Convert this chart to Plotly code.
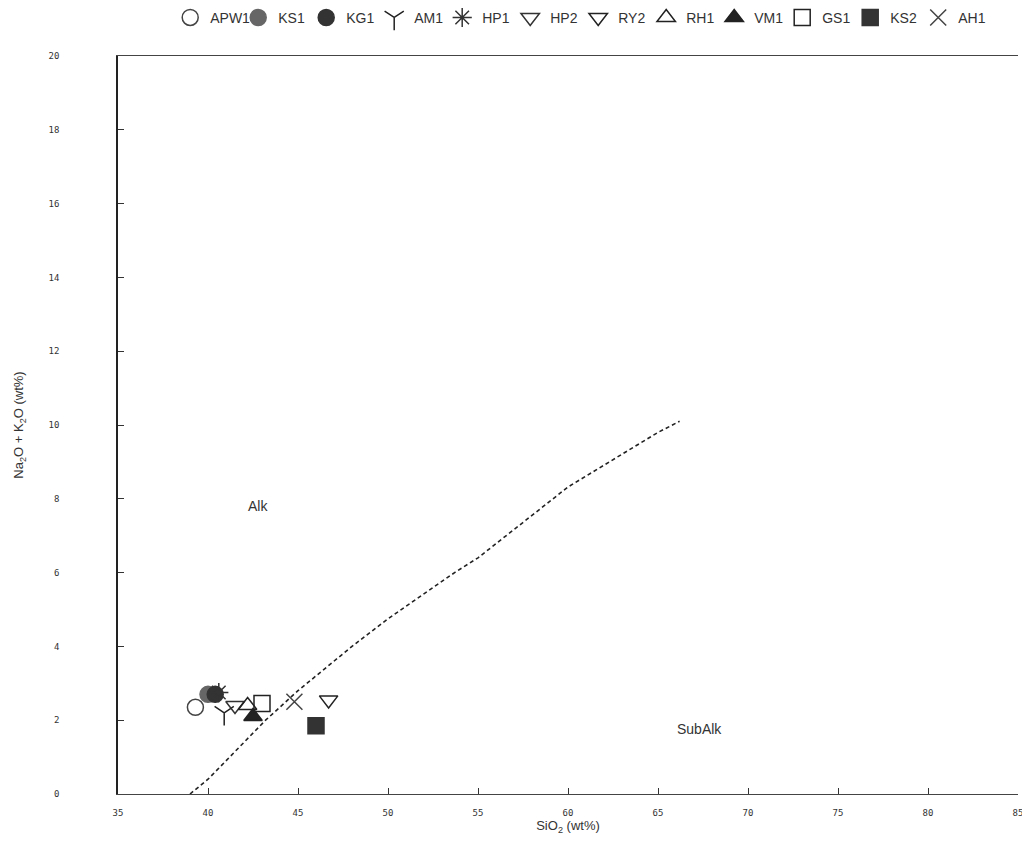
import plotly.graph_objects as go

# Samples (SiO2 wt%, Na2O+K2O wt%)
samples = ["APW1", "KS1", "KG1", "AM1", "HP1", "HP2", "RY2", "RH1", "VM1", "GS1", "KS2", "AH1"]
sio2 = [39.3, 40.0, 40.4, 40.9, 40.6, 41.5, 46.7, 42.2, 42.5, 43.0, 46.0, 44.8]
alk = [2.35, 2.7, 2.7, 2.2, 2.75, 2.4, 2.55, 2.4, 2.1, 2.45, 1.85, 2.5]
symbols = ["circle-open", "circle", "circle", "y-down-open", "asterisk-open",
           "triangle-down-open", "triangle-down-open", "triangle-up-open",
           "triangle-up", "square-open", "square", "x-thin-open"]
colors = ["#444", "#666", "#333", "#222", "#333", "#333", "#222", "#222",
          "#222", "#222", "#333", "#444"]

# Alkaline / subalkaline dividing line (Irvine & Baragar)
div_x = [39.0, 40.0, 43.2, 45.0, 48.0, 50.0, 53.7, 55.0, 60.0, 65.0, 66.2]
div_y = [0.0, 0.4, 2.0, 2.8, 4.0, 4.75, 6.0, 6.4, 8.32, 9.8, 10.1]

x_ticks = [35, 40, 45, 50, 55, 60, 65, 70, 75, 80, 85]
y_ticks = [0, 2, 4, 6, 8, 10, 12, 14, 16, 18, 20]

fig = go.Figure()
fig.add_trace(go.Scatter(x=div_x, y=div_y, mode="lines", showlegend=False,
                         line=dict(color="#222", width=1.6, dash="4px,3px"),
                         hoverinfo="skip"))
for i, s in enumerate(samples):
    fig.add_trace(go.Scatter(
        x=[sio2[i]], y=[alk[i]], mode="markers", name=s,
        marker=dict(symbol=symbols[i], size=16, color=colors[i],
                    line=dict(color=colors[i], width=1.5))))

fig.add_annotation(x=42.8, y=7.8, text="Alk", showarrow=False,
                   font=dict(size=14, color="#333"))
fig.add_annotation(x=67.3, y=1.75, text="SubAlk", showarrow=False,
                   font=dict(size=14, color="#333"))

axis_font = dict(family="DejaVu Sans Mono", size=9, color="#333")
fig.update_layout(
    width=1030, height=843,
    paper_bgcolor="white", plot_bgcolor="white",
    margin=dict(l=110, r=20, t=48, b=57, autoexpand=False),
    font=dict(family="Liberation Sans", color="#333"),
    showlegend=True,
    legend=dict(orientation="h", x=0.058, y=1.03, xanchor="left", yanchor="bottom",
                yref="paper",
                font=dict(size=14, color="#333",
                          family="Liberation Sans Narrow, Arial Narrow, Liberation Sans"),
                itemwidth=30, entrywidth=23, entrywidthmode="pixels",
                tracegroupgap=0,
                bgcolor="rgba(0,0,0,0)"),
    xaxis=dict(range=[35, 85], tickvals=x_ticks, ticktext=[str(v) for v in x_ticks],
               ticks="inside", ticklen=6, tickcolor="#333",
               showgrid=False, zeroline=False,
               showline=True, linecolor="#444", linewidth=1.2, mirror=True,
               tickfont=axis_font, ticklabelstandoff=10, ticklabeloverflow="allow",
               title=dict(text="SiO<sub>2</sub> (wt%)", standoff=2,
                          font=dict(size=13, color="#333"))),
    yaxis=dict(range=[0, 20], tickvals=y_ticks, ticktext=[str(v) for v in y_ticks],
               ticks="inside", ticklen=6, tickcolor="#333",
               showgrid=False, zeroline=False,
               showline=True, linecolor="#222", linewidth=1.5,
               tickfont=axis_font, ticklabelstandoff=55,
               title=dict(text="Na<sub>2</sub>O + K<sub>2</sub>O (wt%)", standoff=22,
                          font=dict(size=13, color="#333"))),
)

fig.write_html("out.html")
